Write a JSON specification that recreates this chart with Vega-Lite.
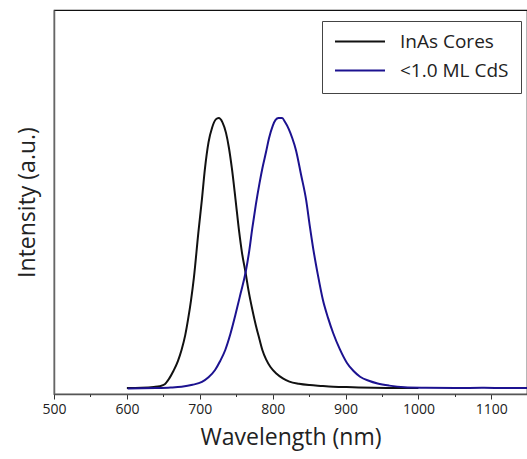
{
  "$schema": "https://vega.github.io/schema/vega-lite/v6.json",
  "width": 473,
  "height": 384,
  "autosize": {"type": "none"},
  "padding": {"left": 54, "top": 10, "right": 0, "bottom": 65},
  "background": "white",
  "config": {
    "font": "Open Sans",
    "view": {"stroke": "#111", "strokeWidth": 1.2}
  },
  "data": {
    "values": [
      {"s": "InAs Cores", "w": 600, "v": 0.0},
      {"s": "InAs Cores", "w": 620, "v": 0.001},
      {"s": "InAs Cores", "w": 637, "v": 0.004},
      {"s": "InAs Cores", "w": 645, "v": 0.007},
      {"s": "InAs Cores", "w": 652, "v": 0.014},
      {"s": "InAs Cores", "w": 658, "v": 0.035},
      {"s": "InAs Cores", "w": 664, "v": 0.064},
      {"s": "InAs Cores", "w": 670, "v": 0.1},
      {"s": "InAs Cores", "w": 675, "v": 0.141},
      {"s": "InAs Cores", "w": 680, "v": 0.195},
      {"s": "InAs Cores", "w": 684, "v": 0.255},
      {"s": "InAs Cores", "w": 688, "v": 0.325},
      {"s": "InAs Cores", "w": 692, "v": 0.41},
      {"s": "InAs Cores", "w": 698, "v": 0.574},
      {"s": "InAs Cores", "w": 703, "v": 0.7},
      {"s": "InAs Cores", "w": 707, "v": 0.81},
      {"s": "InAs Cores", "w": 712, "v": 0.91},
      {"s": "InAs Cores", "w": 717, "v": 0.965},
      {"s": "InAs Cores", "w": 722, "v": 0.995},
      {"s": "InAs Cores", "w": 726, "v": 1.0},
      {"s": "InAs Cores", "w": 731, "v": 0.985},
      {"s": "InAs Cores", "w": 736, "v": 0.945},
      {"s": "InAs Cores", "w": 740, "v": 0.89},
      {"s": "InAs Cores", "w": 744, "v": 0.815},
      {"s": "InAs Cores", "w": 749, "v": 0.7},
      {"s": "InAs Cores", "w": 754, "v": 0.58},
      {"s": "InAs Cores", "w": 758, "v": 0.5},
      {"s": "InAs Cores", "w": 763, "v": 0.425},
      {"s": "InAs Cores", "w": 767, "v": 0.36},
      {"s": "InAs Cores", "w": 772, "v": 0.292},
      {"s": "InAs Cores", "w": 777, "v": 0.232},
      {"s": "InAs Cores", "w": 782, "v": 0.18},
      {"s": "InAs Cores", "w": 786, "v": 0.14},
      {"s": "InAs Cores", "w": 791, "v": 0.106},
      {"s": "InAs Cores", "w": 797, "v": 0.078},
      {"s": "InAs Cores", "w": 805, "v": 0.054},
      {"s": "InAs Cores", "w": 814, "v": 0.036},
      {"s": "InAs Cores", "w": 823, "v": 0.024},
      {"s": "InAs Cores", "w": 836, "v": 0.016},
      {"s": "InAs Cores", "w": 851, "v": 0.011},
      {"s": "InAs Cores", "w": 866, "v": 0.008},
      {"s": "InAs Cores", "w": 883, "v": 0.005},
      {"s": "InAs Cores", "w": 910, "v": 0.003},
      {"s": "InAs Cores", "w": 939, "v": 0.001},
      {"s": "InAs Cores", "w": 970, "v": 0.0},
      {"s": "InAs Cores", "w": 1000, "v": 0.0},
      {"s": "<1.0 ML CdS", "w": 601, "v": -0.002},
      {"s": "<1.0 ML CdS", "w": 620, "v": -0.001},
      {"s": "<1.0 ML CdS", "w": 640, "v": 0.0},
      {"s": "<1.0 ML CdS", "w": 660, "v": 0.002},
      {"s": "<1.0 ML CdS", "w": 675, "v": 0.005},
      {"s": "<1.0 ML CdS", "w": 690, "v": 0.012},
      {"s": "<1.0 ML CdS", "w": 703, "v": 0.023},
      {"s": "<1.0 ML CdS", "w": 712, "v": 0.04},
      {"s": "<1.0 ML CdS", "w": 721, "v": 0.067},
      {"s": "<1.0 ML CdS", "w": 728, "v": 0.1},
      {"s": "<1.0 ML CdS", "w": 735, "v": 0.141},
      {"s": "<1.0 ML CdS", "w": 742, "v": 0.2},
      {"s": "<1.0 ML CdS", "w": 749, "v": 0.272},
      {"s": "<1.0 ML CdS", "w": 756, "v": 0.35},
      {"s": "<1.0 ML CdS", "w": 763, "v": 0.43},
      {"s": "<1.0 ML CdS", "w": 768, "v": 0.51},
      {"s": "<1.0 ML CdS", "w": 772, "v": 0.59},
      {"s": "<1.0 ML CdS", "w": 777, "v": 0.68},
      {"s": "<1.0 ML CdS", "w": 782, "v": 0.759},
      {"s": "<1.0 ML CdS", "w": 786, "v": 0.815},
      {"s": "<1.0 ML CdS", "w": 791, "v": 0.875},
      {"s": "<1.0 ML CdS", "w": 795, "v": 0.925},
      {"s": "<1.0 ML CdS", "w": 800, "v": 0.97},
      {"s": "<1.0 ML CdS", "w": 804, "v": 0.993},
      {"s": "<1.0 ML CdS", "w": 808, "v": 1.0},
      {"s": "<1.0 ML CdS", "w": 813, "v": 1.0},
      {"s": "<1.0 ML CdS", "w": 817, "v": 0.985},
      {"s": "<1.0 ML CdS", "w": 822, "v": 0.96},
      {"s": "<1.0 ML CdS", "w": 827, "v": 0.925},
      {"s": "<1.0 ML CdS", "w": 832, "v": 0.881},
      {"s": "<1.0 ML CdS", "w": 839, "v": 0.79},
      {"s": "<1.0 ML CdS", "w": 846, "v": 0.696},
      {"s": "<1.0 ML CdS", "w": 851, "v": 0.6},
      {"s": "<1.0 ML CdS", "w": 856, "v": 0.511},
      {"s": "<1.0 ML CdS", "w": 862, "v": 0.42},
      {"s": "<1.0 ML CdS", "w": 869, "v": 0.326},
      {"s": "<1.0 ML CdS", "w": 876, "v": 0.26},
      {"s": "<1.0 ML CdS", "w": 883, "v": 0.204},
      {"s": "<1.0 ML CdS", "w": 892, "v": 0.145},
      {"s": "<1.0 ML CdS", "w": 902, "v": 0.093},
      {"s": "<1.0 ML CdS", "w": 911, "v": 0.063},
      {"s": "<1.0 ML CdS", "w": 920, "v": 0.042},
      {"s": "<1.0 ML CdS", "w": 932, "v": 0.027},
      {"s": "<1.0 ML CdS", "w": 944, "v": 0.017},
      {"s": "<1.0 ML CdS", "w": 960, "v": 0.009},
      {"s": "<1.0 ML CdS", "w": 981, "v": 0.003},
      {"s": "<1.0 ML CdS", "w": 1010, "v": 0.001},
      {"s": "<1.0 ML CdS", "w": 1050, "v": 0.0},
      {"s": "<1.0 ML CdS", "w": 1090, "v": 0.001},
      {"s": "<1.0 ML CdS", "w": 1120, "v": 0.0},
      {"s": "<1.0 ML CdS", "w": 1150, "v": 0.0}
    ]
  },
  "layer": [
    {
      "mark": {"type": "line", "strokeWidth": 2, "clip": true, "interpolate": "monotone"},
      "encoding": {
        "x": {
          "field": "w", "type": "quantitative",
          "scale": {"domain": [500, 1149], "nice": false, "zero": false},
          "axis": {
            "title": "Wavelength (nm)",
            "values": [500, 600, 700, 800, 900, 1000, 1100],
            "format": "d",
            "grid": false,
            "domainColor": "#555", "domainWidth": 1.5,
            "tickColor": "#333", "tickSize": 5, "tickWidth": 1,
            "labelFontSize": 14, "labelColor": "#222", "labelPadding": 3,
            "labelFlush": false,
            "titleFontSize": 23, "titleFontWeight": "normal", "titleColor": "#222",
            "titlePadding": 10
          }
        },
        "y": {
          "field": "v", "type": "quantitative",
          "scale": {"domain": [-0.022, 1.4], "nice": false, "zero": false},
          "axis": {
            "title": "Intensity (a.u.)",
            "labels": false, "ticks": false, "grid": false,
            "domainColor": "#666", "domainWidth": 1.5,
            "titleFontSize": 23, "titleFontWeight": "normal", "titleColor": "#222",
            "titlePadding": 15
          }
        },
        "color": {
          "field": "s", "type": "nominal",
          "scale": {"domain": ["InAs Cores", "<1.0 ML CdS"], "range": ["#111111", "#1c1290"]},
          "legend": {
            "title": null,
            "orient": "none",
            "legendX": 268,
            "legendY": 11,
            "direction": "vertical",
            "symbolType": "stroke",
            "symbolSize": 2500,
            "symbolStrokeWidth": 2,
            "clipHeight": 17,
            "rowPadding": 9,
            "labelFontSize": 19,
            "labelColor": "#222",
            "labelOffset": 14,
            "padding": 12,
            "strokeColor": "#444",
            "fillColor": "white"
          }
        }
      }
    },
    {
      "mark": {"type": "rule", "opacity": 0},
      "encoding": {
        "x": {
          "datum": 550, "type": "quantitative",
          "axis": {
            "orient": "bottom",
            "title": null,
            "values": [550, 650, 750, 850, 950, 1050],
            "labels": false, "domain": false, "grid": false,
            "tickColor": "#333", "tickSize": 2.5, "tickWidth": 1
          }
        }
      }
    }
  ],
  "resolve": {"axis": {"x": "independent"}}
}
